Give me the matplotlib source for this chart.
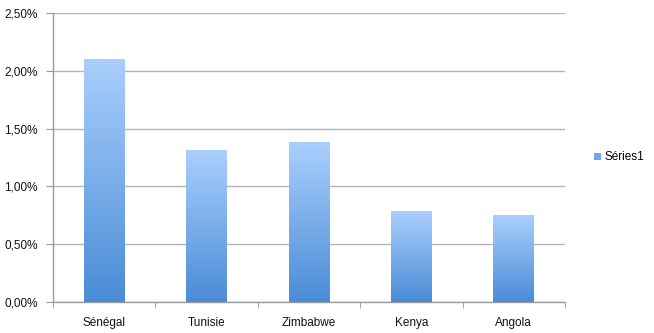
import matplotlib.pyplot as plt
import numpy as np
from matplotlib.colors import LinearSegmentedColormap
from matplotlib.patches import Patch
from matplotlib.ticker import FuncFormatter

# Chart data
countries = ['Sénégal', 'Tunisie', 'Zimbabwe', 'Kenya', 'Angola']
values = [0.0210, 0.0131, 0.0138, 0.0078, 0.0075]
series_name = 'Séries1'

plt.rcParams['font.family'] = ['Liberation Sans', 'DejaVu Sans']

fig = plt.figure(figsize=(6.54, 3.33), dpi=100)
ax = fig.add_axes([53 / 654, 31 / 333, 512 / 654, 289 / 333])

x = np.arange(len(countries))
bars = ax.bar(x, values, width=0.4, color='none', zorder=3)

# vertical gradient fill, light on top and darker at the bottom
cmap = LinearSegmentedColormap.from_list('bluegrad', ['#4a8cd6', '#aacffd'])
grad = np.linspace(0, 1, 256).reshape(-1, 1)
for b in bars:
    x0, w, h = b.get_x(), b.get_width(), b.get_height()
    ax.imshow(grad, cmap=cmap, origin='lower', aspect='auto',
              extent=[x0, x0 + w, 0, h], zorder=3)

ax.set_xlim(-0.5, len(countries) - 0.5)
ax.set_ylim(0, 0.025)
ax.set_yticks(np.arange(0, 0.0251, 0.005))
ax.yaxis.set_major_formatter(FuncFormatter(lambda v, p: f'{v * 100:.2f}%'.replace('.', ',')))

ax.set_xticks(x)
ax.set_xticklabels(countries)
ax.set_xticks(np.arange(-0.5, len(countries), 1), minor=True)
ax.tick_params(axis='x', which='major', length=0, pad=11)
ax.tick_params(axis='x', which='minor', length=4, color='#9a9a9a', direction='out')
ax.tick_params(axis='y', length=5, color='#9a9a9a', pad=6)
ax.tick_params(labelsize=8.5, labelcolor='#111111')

ax.grid(axis='y', color='#b4b4b4', linewidth=1, zorder=0)
for side in ['top', 'right']:
    ax.spines[side].set_visible(False)
for side in ['left', 'bottom']:
    ax.spines[side].set_color('#9a9a9a')
    ax.spines[side].set_linewidth(1)

handle = Patch(facecolor='#6fa6ea', edgecolor='none')
ax.legend([handle], [series_name], loc='center left', bbox_to_anchor=(1.035, 0.5),
          frameon=False, fontsize=8.5, handlelength=0.6, handleheight=0.6,
          handletextpad=0.3)

fig.savefig('out.png', dpi=100)
